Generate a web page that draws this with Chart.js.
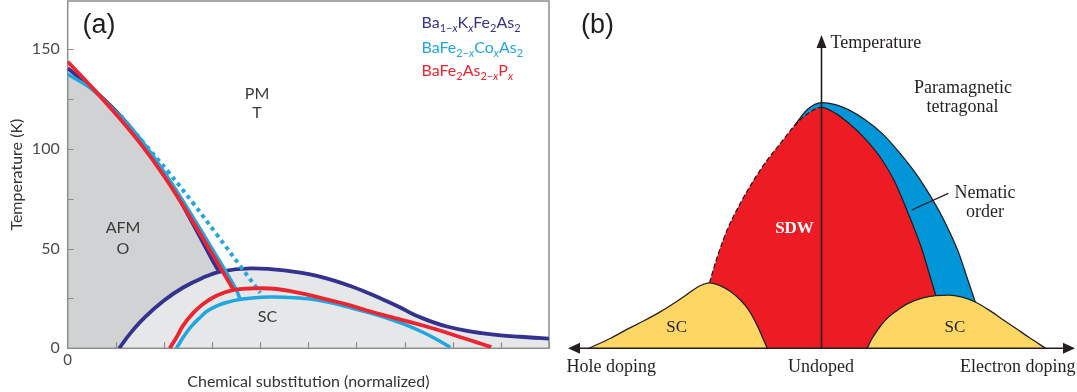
<!DOCTYPE html>
<html>
<head>
<meta charset="utf-8">
<script src="https://cdn.jsdelivr.net/npm/chart.js@4.4.1/dist/chart.umd.min.js"></script>
<style>
  html, body { margin: 0; padding: 0; background: #fff; }
  #wrap { position: relative; width: 1077px; height: 392px; overflow: hidden; }
  canvas { position: absolute; top: 0; }
  #phase { left: 0; }
  #schematic { left: 560px; }
</style>
</head>
<body>
<div id="wrap">
  <canvas id="phase" width="560" height="392"></canvas>
  <canvas id="schematic" width="517" height="392"></canvas>
</div>
<script>
// ---------- (a) Phase diagram of BaFe2As2 with three substitutions ----------
// x: chemical substitution (normalized, 0..10), T in kelvin

// Ba1-xKxFe2As2 (hole doped)
const kAfmX  = [0, 0.5, 1.0, 1.5, 2.0, 2.5, 3.0, 3.13];
const kAfmT  = [140.5, 130.5, 119, 105, 88, 67, 44.5, 39];
const kScX   = [1.07, 1.3, 1.6, 2.0, 2.4, 2.8, 3.2, 3.8, 4.5, 5.2, 5.9, 6.55, 6.9, 7.2, 7.6, 7.9, 8.3, 8.6, 9.0, 9.4, 9.7, 10];
const kScT   = [0, 7.5, 15.5, 24, 30.5, 35.3, 38.6, 40.1, 39.1, 36.2, 31, 24.5, 20.6, 16.8, 13, 10.8, 8.7, 7.6, 6.5, 5.8, 5.3, 4.9];

// BaFe2-xCoxAs2 (electron doped)
const coAfmX = [0, 0.5, 1.0, 1.5, 2.0, 2.5, 3.0, 3.5, 3.58];
const coAfmT = [137.5, 130, 118.5, 105, 88.5, 69.8, 50, 29.5, 24.6];
const coStrX = [1.1, 1.6, 2.1, 2.6, 3.1, 3.6, 4.0];
const coStrT = [116.7, 102.5, 88.2, 73, 57, 40.8, 27.8];
const coScX  = [2.26, 2.4, 2.55, 2.75, 2.9, 3.1, 3.3, 3.6, 3.9, 4.2, 4.5, 5.0, 5.4, 5.8, 6.2, 6.6, 7.0, 7.4, 7.7, 7.95];
const coScT  = [0, 5.5, 10.5, 15.5, 18.7, 21.3, 23, 24.6, 25.4, 25.7, 25.6, 24.8, 23.2, 20.8, 18.3, 15.4, 12, 7.8, 4, 0.5];

// BaFe2As2-xPx (isovalent)
const pAfmX  = [0, 0.5, 1.0, 1.5, 2.0, 2.5, 3.0, 3.44];
const pAfmT  = [143.7, 131, 117.5, 103, 86.5, 67.5, 47.5, 29.5];
const pScX   = [2.12, 2.25, 2.4, 2.6, 2.8, 3.1, 3.45, 3.8, 4.2, 4.6, 5.0, 5.4, 5.8, 6.2, 6.6, 7.0, 7.4, 7.8, 8.2, 8.5, 8.8];
const pScT   = [0, 5, 11.5, 17.5, 22, 26.5, 29.3, 30, 30, 28.8, 26.8, 24.4, 22, 19.1, 16.4, 13.9, 11.3, 8.4, 5.3, 3, 0.6];

const tempTicks = [0, 50, 100, 150];
const substitutionTicks = [0];

const NAVY = '#34318f', CYAN = '#22a6df', RED = '#ec2630';
const AFM_GREY = '#d1d2d3', SC_GREY = '#e6e7e8', FRAME = '#8d8d8d', TXT = '#3a3a3a';

const zip = (xs, ys) => xs.map((x, i) => ({ x, y: ys[i] }));

function curve(label, xs, ys, color, width, extra) {
  return Object.assign({
    label, data: zip(xs, ys), borderColor: color, borderWidth: width,
    pointRadius: 0, tension: 0.4, fill: false, borderCapStyle: 'butt'
  }, extra || {});
}

// draws formula text with subscripts: parts = [[text, style]], style '' | 's' | 'si'
function drawFormula(ctx, x, y, parts, color, size) {
  ctx.save();
  ctx.fillStyle = color;
  ctx.textBaseline = 'alphabetic';
  ctx.textAlign = 'left';
  const sub = Math.round(size * 0.66);
  for (const [t, st] of parts) {
    if (st === '') {
      ctx.font = `${size}px Lato`;
      ctx.fillText(t, x, y);
    } else {
      ctx.font = `${st === 'si' ? 'italic ' : ''}${sub}px Lato`;
      ctx.fillText(t, x, y + 4);
    }
    x += ctx.measureText(t).width;
  }
  ctx.restore();
}

const phaseFrame = {
  id: 'phaseFrame',
  beforeDatasetsDraw(chart) {
    const { ctx, chartArea: a, scales: { x, y } } = chart;
    ctx.save();
    ctx.strokeStyle = FRAME;
    ctx.lineWidth = 1.5;
    ctx.strokeRect(a.left, a.top, a.right - a.left, a.bottom - a.top);
    ctx.lineWidth = 1.2;
    ctx.beginPath();
    for (const t of x.ticks) {
      if (t.value === 0) continue;
      const px = Math.round(x.getPixelForValue(t.value)) + 0.5;
      ctx.moveTo(px, a.bottom); ctx.lineTo(px, a.bottom - 6);
    }
    for (const t of y.ticks) {
      if (t.value === 0) continue;
      const py = Math.round(y.getPixelForValue(t.value)) + 0.5;
      ctx.moveTo(a.left, py); ctx.lineTo(a.left + 6, py);
    }
    ctx.stroke();
    ctx.restore();
  },
  afterDatasetsDraw(chart) {
    const { ctx } = chart;
    ctx.save();
    ctx.fillStyle = '#1e1e1e';
    ctx.font = '27px "Liberation Sans"';
    ctx.textAlign = 'center';
    ctx.textBaseline = 'middle';
    ctx.fillText('(a)', 99, 26);
    ctx.fillStyle = TXT;
    ctx.font = '16px Lato';
    ctx.fillText('PM', 257, 94);
    ctx.fillText('T', 257, 113);
    ctx.fillText('AFM', 123, 228);
    ctx.fillText('O', 123, 249);
    ctx.fillText('SC', 267.5, 317);
    ctx.restore();
    drawFormula(ctx, 421.5, 28, [['Ba', ''], ['1\u2212', 's'], ['x', 'si'], ['K', ''], ['x', 'si'], ['Fe', ''], ['2', 's'], ['As', ''], ['2', 's']], NAVY, 16);
    drawFormula(ctx, 421.5, 52.5, [['BaFe', ''], ['2\u2212', 's'], ['x', 'si'], ['Co', ''], ['x', 'si'], ['As', ''], ['2', 's']], CYAN, 16);
    drawFormula(ctx, 421.5, 75.5, [['BaFe', ''], ['2', 's'], ['As', ''], ['2\u2212', 's'], ['x', 'si'], ['P', ''], ['x', 'si']], RED, 16);
  }
};

new Chart(document.getElementById('phase'), {
  type: 'line',
  data: {
    datasets: [
      curve('P AFM', pAfmX, pAfmT, RED, 3.8),
      curve('P SC', pScX, pScT, RED, 3.8),
      curve('Co AFM', coAfmX, coAfmT, CYAN, 3.5),
      curve('Co SC', coScX, coScT, CYAN, 3.5),
      curve('Co structural', coStrX, coStrT, CYAN, 4, { borderDash: [4, 4] }),
      curve('K SC', kScX, kScT, NAVY, 3.8, { fill: 'origin', backgroundColor: SC_GREY }),
      curve('K AFM', kAfmX, kAfmT, NAVY, 3.8, { fill: 'origin', backgroundColor: AFM_GREY })
    ]
  },
  options: {
    responsive: false,
    devicePixelRatio: 1,
    animation: false,
    layout: { padding: { top: 1, right: 11, left: 0, bottom: 0 } },
    plugins: {
      legend: { display: false },
      tooltip: { enabled: false },
      filler: { drawTime: 'beforeDatasetsDraw' }
    },
    scales: {
      x: {
        type: 'linear', min: 0, max: 10, position: 'bottom',
        grid: { display: false, drawTicks: false },
        border: { display: false },
        ticks: {
          stepSize: 1, autoSkip: false, maxRotation: 0, padding: 3,
          color: '#4a4a4a', font: { family: 'Lato', size: 15 },
          callback: v => substitutionTicks.includes(v) ? String(v) : ''
        },
        title: {
          display: true, text: 'Chemical substitution (normalized)', color: '#333',
          font: { family: 'Lato', size: 16 }, padding: { top: 0, bottom: 1 }
        },
        afterFit(s) { s.height = 43.7; s.paddingLeft = 0; s.paddingRight = 0; }
      },
      y: {
        type: 'linear', min: 0, max: 174.2,
        grid: { display: false, drawTicks: false },
        border: { display: false },
        ticks: {
          stepSize: 25, includeBounds: false, autoSkip: false, padding: 8,
          color: '#4a4a4a', font: { family: 'Lato', size: 16 },
          callback: v => tempTicks.includes(v) ? String(v) : ''
        },
        title: {
          display: true, text: 'Temperature (K)', color: '#333',
          font: { family: 'Lato', size: 16 }, padding: { top: 7, bottom: 0 }
        },
        afterFit(s) { s.width = 67.7; s.paddingTop = 0; s.paddingBottom = 0; }
      }
    }
  },
  plugins: [phaseFrame]
});

// ---------- (b) Schematic phase diagram ----------
// x: doping (-100 hole .. 0 undoped .. +100 electron), y: temperature (0..100)
const scHoleX = [-91.8, -83.2, -76.6, -70.0, -63.5, -58.2, -52.9, -49.0, -46.3, -44.2, -39.8, -35.9, -32.0, -28.7, -25.4, -23.4, -21.4];
const scHoleT = [0, 3.2, 6.1, 8.8, 11.7, 14.4, 17.3, 19.5, 20.5, 20.9, 19.9, 18.1, 15.4, 12.2, 7.4, 3.7, 0];
const scElecX = [18.0, 20.0, 22.6, 25.2, 29.2, 34.4, 39.7, 45.0, 50.2, 55.5, 60.8, 66.1, 71.3, 76.6, 81.8, 88.4];
const scElecT = [0, 3.2, 6.4, 9.0, 11.7, 14.4, 16.0, 16.8, 17.0, 16.3, 14.7, 12.2, 9.3, 6.4, 3.5, 0];
const sdwX = [-44.2, -41.1, -37.2, -32.0, -26.7, -21.4, -16.2, -10.9, -5.6, 0, 5.5, 10.8, 17.5, 23.9, 28.8, 33.1, 36.6, 39.7, 42.5, 45.0, 46.2];
const sdwT = [20.9, 29.2, 37.8, 46.3, 53.7, 60.1, 65.4, 70.8, 74.8, 76.9, 75.0, 71.8, 66.6, 60.1, 53.3, 45.2, 38.2, 31.4, 23.8, 17.0, 13.8];
const nemX = [-10.9, -5.6, 0, 5.5, 10.8, 17.5, 23.9, 30.5, 37.1, 42.5, 47.6, 51, 54.2, 57.5, 60.8, 62.5];
const nemT = [70.8, 76.2, 78.4, 77.8, 76.1, 72.8, 68.6, 62.7, 55.9, 49.2, 42.0, 36.3, 30.3, 22.4, 14.4, 10];
const dopingAxis = [-100, 100];
const tempAxis = [0, 100];

const YELLOW = '#fdd663', SDW_RED = '#ed1c24', NEM_BLUE = '#0096d8', INK = '#231f20';

function region(label, xs, ys, fillColor, extra) {
  return Object.assign({
    label, data: zip(xs, ys), borderColor: INK, borderWidth: 1.3,
    backgroundColor: fillColor, fill: 'origin', pointRadius: 0,
    cubicInterpolationMode: 'monotone'
  }, extra || {});
}

const schematicDecor = {
  id: 'schematicDecor',
  afterDatasetsDraw(chart) {
    const { ctx, scales: { x, y } } = chart;
    const x0 = x.getPixelForValue(0), y0 = y.getPixelForValue(0);
    const xl = x.getPixelForValue(dopingAxis[0]), xr = x.getPixelForValue(dopingAxis[1]);
    const yt = y.getPixelForValue(tempAxis[1]);
    ctx.save();
    ctx.strokeStyle = INK; ctx.fillStyle = INK; ctx.lineWidth = 1.6;
    ctx.beginPath();
    ctx.moveTo(xl + 6, y0); ctx.lineTo(xr - 6, y0);
    ctx.moveTo(x0, y0); ctx.lineTo(x0, yt + 6);
    ctx.stroke();
    ctx.beginPath();
    ctx.moveTo(xl, y0); ctx.lineTo(xl + 12, y0 - 5.5); ctx.lineTo(xl + 12, y0 + 5.5); ctx.closePath();
    ctx.moveTo(xr, y0); ctx.lineTo(xr - 12, y0 - 5.5); ctx.lineTo(xr - 12, y0 + 5.5); ctx.closePath();
    ctx.moveTo(x0, yt); ctx.lineTo(x0 - 5, yt + 13); ctx.lineTo(x0 + 5, yt + 13); ctx.closePath();
    ctx.fill();
    // leader to the nematic band
    ctx.lineWidth = 1.3;
    ctx.beginPath();
    ctx.moveTo(351.7, 210); ctx.lineTo(388.3, 193.3);
    ctx.stroke();

    ctx.font = '27px "Liberation Sans"';
    ctx.fillStyle = '#1e1e1e';
    ctx.textAlign = 'center'; ctx.textBaseline = 'middle';
    ctx.fillText('(b)', 37.5, 26);

    ctx.fillStyle = INK;
    ctx.font = '18px "Liberation Serif"';
    ctx.textAlign = 'left';
    ctx.fillText('Temperature', 270.5, 43);
    ctx.fillText('Hole doping', 6.5, 367);
    ctx.textAlign = 'center';
    ctx.fillText('Undoped', 261, 367);
    ctx.fillText('Paramagnetic', 403, 88);
    ctx.fillText('tetragonal', 402.5, 107);
    ctx.fillText('Nematic', 425, 193);
    ctx.fillText('order', 425, 212);
    ctx.textAlign = 'right';
    ctx.fillText('Electron doping', 515.5, 367);
    ctx.textAlign = 'center';
    ctx.font = '17px "Liberation Serif"';
    ctx.fillText('SC', 116.7, 328);
    ctx.fillText('SC', 395, 327.5);
    ctx.fillStyle = '#ffffff';
    ctx.font = 'bold 17px "Liberation Serif"';
    ctx.fillText('SDW', 234.5, 228.5);
    ctx.restore();
  }
};

new Chart(document.getElementById('schematic'), {
  type: 'line',
  data: {
    datasets: [
      region('SC electron side', scElecX, scElecT, YELLOW),
      region('SC hole side', scHoleX, scHoleT, YELLOW),
      region('SDW', sdwX, sdwT, SDW_RED, {
        segment: { borderDash: c => (c.p1.parsed.x <= 0 ? [5, 2.5] : undefined) }
      }),
      region('Nematic order', nemX, nemT, NEM_BLUE)
    ]
  },
  options: {
    responsive: false,
    devicePixelRatio: 1,
    animation: false,
    layout: { padding: { top: 35, right: 2, left: 8, bottom: 43.7 } },
    plugins: { legend: { display: false }, tooltip: { enabled: false } },
    scales: {
      x: { type: 'linear', min: -100, max: 100, display: false },
      y: { type: 'linear', min: 0, max: 100, display: false }
    }
  },
  plugins: [schematicDecor]
});
</script>
</body>
</html>
